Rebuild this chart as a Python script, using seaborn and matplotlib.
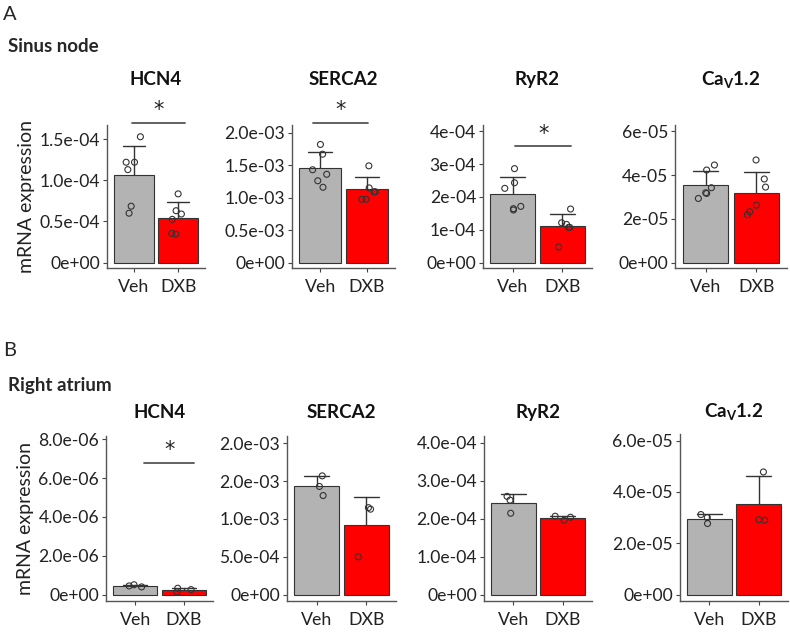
import matplotlib
matplotlib.use("Agg")
import matplotlib.pyplot as plt
import numpy as np
import pandas as pd
import seaborn as sns

# Groupes et couleurs
groups = ["Veh", "DXB"]
group_colors = {"Veh": "#B3B3B3", "DXB": "#FF0000"}

# Sinus node (n = 6 par groupe)
sn_hcn4_veh = [1.53e-4, 1.13e-4, 1.22e-4, 1.22e-4, 0.60e-4, 0.685e-4]
sn_hcn4_dxb = [0.835e-4, 0.63e-4, 0.59e-4, 0.525e-4, 0.355e-4, 0.345e-4]
sn_serca2_veh = [1.82e-3, 1.67e-3, 1.36e-3, 1.43e-3, 1.26e-3, 1.16e-3]
sn_serca2_dxb = [1.49e-3, 1.15e-3, 1.09e-3, 1.09e-3, 0.975e-3, 0.975e-3]
sn_ryr2_veh = [2.86e-4, 2.43e-4, 2.26e-4, 1.71e-4, 1.64e-4, 1.60e-4]
sn_ryr2_dxb = [1.63e-4, 1.21e-4, 1.16e-4, 1.07e-4, 1.07e-4, 0.47e-4]
sn_cav_veh = [4.46e-5, 4.23e-5, 3.42e-5, 2.93e-5, 3.16e-5, 3.19e-5]
sn_cav_dxb = [4.69e-5, 3.82e-5, 3.45e-5, 2.62e-5, 2.32e-5, 2.18e-5]

# Right atrium (n = 3 par groupe)
ra_hcn4_veh = [0.51e-6, 0.45e-6, 0.40e-6]
ra_hcn4_dxb = [0.14e-6, 0.26e-6, 0.33e-6]
ra_serca2_veh = [1.57e-3, 1.43e-3, 1.31e-3]
ra_serca2_dxb = [1.13e-3, 1.15e-3, 0.50e-3]
ra_ryr2_veh = [2.49e-4, 2.59e-4, 2.145e-4]
ra_ryr2_dxb = [2.066e-4, 1.96e-4, 2.04e-4]
ra_cav_veh = [2.77e-5, 3.12e-5, 3.00e-5]
ra_cav_dxb = [4.78e-5, 2.90e-5, 2.92e-5]

# Graduations (les étiquettes sont reprises telles quelles)
sn_hcn4_ticks = [0, 0.5e-4, 1.0e-4, 1.5e-4]
sn_hcn4_labels = ["0e+00", "0.5e-04", "1.0e-04", "1.5e-04"]
sn_serca2_ticks = [0, 0.5e-3, 1.0e-3, 1.5e-3, 2.0e-3]
sn_serca2_labels = ["0e+00", "0.5e-03", "1.0e-03", "1.5e-03", "2.0e-03"]
sn_ryr2_ticks = [0, 1e-4, 2e-4, 3e-4, 4e-4]
sn_ryr2_labels = ["0e+00", "1e-04", "2e-04", "3e-04", "4e-04"]
sn_cav_ticks = [0, 2e-5, 4e-5, 6e-5]
sn_cav_labels = ["0e+00", "2e-05", "4e-05", "6e-05"]

ra_hcn4_ticks = [0, 2e-6, 4e-6, 6e-6, 8e-6]
ra_hcn4_labels = ["0e+00", "2.0e-06", "4.0e-06", "6.0e-06", "8.0e-06"]
ra_serca2_ticks = [0, 5e-4, 1.0e-3, 1.5e-3, 2.0e-3]
ra_serca2_labels = ["0e+00", "5.0e-04", "1.0e-03", "2.0e-03", "2.0e-03"]
ra_ryr2_ticks = [0, 1e-4, 2e-4, 3e-4, 4e-4]
ra_ryr2_labels = ["0e+00", "1.0e-04", "2.0e-04", "3.0e-04", "4.0e-04"]
ra_cav_ticks = [0, 2e-5, 4e-5, 6e-5]
ra_cav_labels = ["0e+00", "2.0e-05", "4.0e-05", "6.0e-05"]

gene_titles = ["HCN4", "SERCA2", "RyR2", r"Ca$_\mathregular{V}$1.2"]

sns.set_theme(style="ticks")
plt.rcParams["font.family"] = ["Lato", "DejaVu Sans"]
plt.rcParams["mathtext.default"] = "regular"

W, H = 790, 635
fig = plt.figure(figsize=(W / 100, H / 100), dpi=100)


def add_axes_px(left, top, right, bottom):
    return fig.add_axes([left / W, 1 - bottom / H, (right - left) / W, (bottom - top) / H])


def draw_panel(ax, veh, dxb, ticks, labels, ytop, title, title_pad, sig=None, ylabel=False):
    df = pd.DataFrame({
        "group": ["Veh"] * len(veh) + ["DXB"] * len(dxb),
        "value": list(veh) + list(dxb),
    })
    sns.barplot(data=df, x="group", y="value", hue="group", order=groups,
                palette=group_colors, saturation=1, errorbar="sd", capsize=0.5, width=0.9,
                edgecolor="#333333", linewidth=0.8, legend=False,
                err_kws={"color": "#333333", "linewidth": 1.0}, ax=ax)
    # les barres d'erreur passent sous les barres (seule la moitié haute reste visible)
    for line in ax.lines:
        line.set_zorder(0.5)
    n_coll = len(ax.collections)
    sns.stripplot(data=df, x="group", y="value", order=groups, jitter=0.18,
                  size=4.3, color="white", ax=ax)
    for coll in ax.collections[n_coll:]:
        coll.set_facecolor("none")
        coll.set_edgecolor("#333333")
        coll.set_linewidth(0.8)
        coll.set_zorder(3)

    ax.set_xlim(-0.6, 1.6)
    ax.set_ylim(-0.04 * ytop, ytop)
    ax.set_yticks(ticks)
    ax.set_yticklabels(labels)
    ax.set_xlabel("")
    ax.set_ylabel("mRNA expression" if ylabel else "", fontsize=14, color="#222222", labelpad=3)
    ax.tick_params(axis="y", labelsize=12.6, colors="#444444", labelcolor="#222222",
                   length=3, width=0.8, pad=2)
    ax.tick_params(axis="x", labelsize=12.8, colors="#444444", labelcolor="#222222",
                   length=3, width=0.8, pad=5)
    for side in ["top", "right"]:
        ax.spines[side].set_visible(False)
    for side in ["left", "bottom"]:
        ax.spines[side].set_color("#555555")
        ax.spines[side].set_linewidth(1.0)
    ax.set_title(title, fontsize=13.5, fontweight="bold", pad=title_pad, color="#111111")

    if sig is not None:
        x0, x1, ys = sig
        ax.plot([x0, x1], [ys, ys], color="#555555", lw=1.3, clip_on=False)
        ax.annotate("*", xy=((x0 + x1) / 2, ys), xytext=(0, 2), textcoords="offset points",
                    ha="center", va="bottom", fontsize=15, color="#222222",
                    family="DejaVu Sans", annotation_clip=False)


# Ligne A : Sinus node
top_axes = [add_axes_px(107, 125, 205, 268), add_axes_px(292, 125, 395, 268),
            add_axes_px(483, 125, 592, 268), add_axes_px(675, 125, 787, 268)]
draw_panel(top_axes[0], sn_hcn4_veh, sn_hcn4_dxb, sn_hcn4_ticks, sn_hcn4_labels,
           1.673e-4, gene_titles[0], 29, sig=(-0.03, 1.15, 1.70e-4), ylabel=True)
draw_panel(top_axes[1], sn_serca2_veh, sn_serca2_dxb, sn_serca2_ticks, sn_serca2_labels,
           2.12e-3, gene_titles[1], 29, sig=(-0.15, 1.02, 2.154e-3))
draw_panel(top_axes[2], sn_ryr2_veh, sn_ryr2_dxb, sn_ryr2_ticks, sn_ryr2_labels,
           4.19e-4, gene_titles[2], 29, sig=(0.05, 1.18, 3.54e-4))
draw_panel(top_axes[3], sn_cav_veh, sn_cav_dxb, sn_cav_ticks, sn_cav_labels,
           6.29e-5, gene_titles[3], 29)

# Ligne B : Right atrium
bot_axes = [add_axes_px(106, 436, 213, 601), add_axes_px(287, 436, 396, 601),
            add_axes_px(484, 436, 592, 601), add_axes_px(680, 434, 788, 601)]
draw_panel(bot_axes[0], ra_hcn4_veh, ra_hcn4_dxb, ra_hcn4_ticks, ra_hcn4_labels,
           8.17e-6, gene_titles[0], 13, sig=(0.19, 1.21, 6.8e-6), ylabel=True)
draw_panel(bot_axes[1], ra_serca2_veh, ra_serca2_dxb, ra_serca2_ticks, ra_serca2_labels,
           2.097e-3, gene_titles[1], 13)
draw_panel(bot_axes[2], ra_ryr2_veh, ra_ryr2_dxb, ra_ryr2_ticks, ra_ryr2_labels,
           4.18e-4, gene_titles[2], 13)
draw_panel(bot_axes[3], ra_cav_veh, ra_cav_dxb, ra_cav_ticks, ra_cav_labels,
           6.26e-5, gene_titles[3], 12)

# Étiquettes de panneaux
fig.text(3 / W, 1 - 15 / H, "A", fontsize=14.5, va="center", ha="left")
fig.text(8 / W, 1 - 46 / H, "Sinus node", fontsize=13.5, fontweight="bold", va="center", ha="left")
fig.text(3 / W, 1 - 350 / H, "B", fontsize=14.5, va="center", ha="left")
fig.text(8 / W, 1 - 386 / H, "Right atrium", fontsize=13.5, fontweight="bold", va="center", ha="left")

fig.savefig("out.png", dpi=100, facecolor="white")
